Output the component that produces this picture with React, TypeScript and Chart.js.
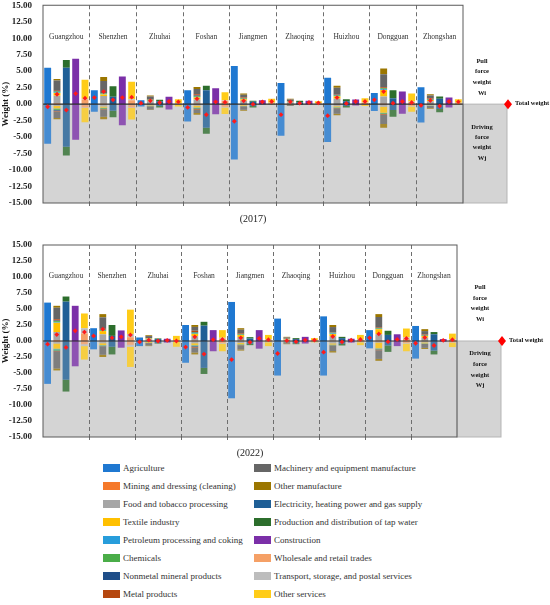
import { useEffect, useRef } from "react";
import { Chart, registerables } from "chart.js";
Chart.register(...registerables);

const serif = '"Liberation Serif", "Times New Roman", serif';

const cities = ["Guangzhou", "Shenzhen", "Zhuhai", "Foshan", "Jiangmen", "Zhaoqing", "Huizhou", "Dongguan", "Zhongshan"];
const industries = [
  "Agriculture", "Mining and dressing (cleaning)", "Food and tobacco processing", "Textile industry",
  "Petroleum processing and coking", "Chemicals", "Nonmetal mineral products", "Metal products",
  "Machinery and equipment manufacture", "Other manufacture", "Electricity, heating power and gas supply",
  "Production and distribution of tap water", "Construction", "Wholesale and retail trades",
  "Transport, storage, and postal services", "Other services",
];
const colors = [
  "#1f78d1", "#f5792a", "#a6a6a6", "#ffc000", "#279ddb", "#4aad48", "#1f4e89", "#b5470f",
  "#666666", "#9b7600", "#1f5f96", "#2c6e2c", "#7b2fa8", "#f5a066", "#bdbdbd", "#ffcc18",
];
// which of the 5 bars of a city an industry is stacked in
const sectorOf = [0, 1, 1, 1, 1, 1, 1, 1, 1, 1, 2, 2, 3, 4, 4, 4];
const slots = 5;

// pull force weight Wi, one row per industry, one value per city
const pull2017 = [
  [5.5, 2.1, 0.6, 2.1, 5.8, 3.2, 4.0, 1.7, 2.55],
  [0.08, 0.05, 0.02, 0.05, 0.03, 0.02, 0.03, 0.05, 0.03],
  [1.2, 1.2, 0.4, 0.65, 0.5, 0.25, 0.8, 1.1, 0.4],
  [0.4, 0.2, 0.1, 0.3, 0.2, 0.1, 0.35, 1.0, 0.2],
  [0.1, 0.05, 0.03, 0.05, 0.03, 0.02, 0.1, 0.1, 0.03],
  [0.15, 0.1, 0.1, 0.15, 0.1, 0.05, 0.1, 0.15, 0.1],
  [0.1, 0.05, 0.02, 0.1, 0.05, 0.02, 0.05, 0.05, 0.03],
  [0.12, 0.05, 0.03, 0.2, 0.1, 0.02, 0.05, 0.1, 0.06],
  [1.45, 1.8, 0.45, 0.8, 0.4, 0.22, 1.0, 2.0, 0.45],
  [0.2, 0.6, 0.15, 0.3, 0.19, 0.1, 0.32, 0.85, 0.2],
  [5.5, 1.1, 0.45, 2.1, 0.35, 0.3, 0.45, 0.9, 0.8],
  [1.2, 1.6, 0.2, 0.7, 0.15, 0.2, 0.3, 1.2, 0.35],
  [6.9, 4.2, 1.1, 2.4, 0.6, 0.5, 0.7, 1.9, 1.0],
  [0.7, 0.6, 0.1, 0.5, 0.15, 0.1, 0.2, 0.3, 0.15],
  [0.1, 0.15, 0.05, 0.1, 0.05, 0.05, 0.05, 0.1, 0.05],
  [2.9, 2.65, 0.6, 1.2, 0.6, 0.3, 0.65, 1.2, 0.55],
];
// driving force weight Wj
const drive2017 = [
  [-6.0, -1.15, -0.35, -2.65, -8.4, -4.8, -5.75, -1.05, -2.8],
  [-0.05, -0.05, -0.01, -0.05, -0.02, -0.01, -0.02, -0.05, -0.02],
  [-0.25, -0.3, -0.15, -0.2, -0.15, -0.05, -0.3, -0.35, -0.15],
  [-0.35, -0.2, -0.1, -0.25, -0.1, -0.03, -0.15, -0.9, -0.05],
  [-0.1, -0.05, -0.01, -0.05, -0.02, -0.01, -0.05, -0.05, -0.02],
  [-0.15, -0.1, -0.05, -0.1, -0.05, -0.02, -0.05, -0.1, -0.03],
  [-0.1, -0.05, -0.01, -0.1, -0.02, -0.01, -0.02, -0.05, -0.01],
  [-0.1, -0.05, -0.02, -0.1, -0.04, -0.01, -0.03, -0.1, -0.02],
  [-1.0, -1.1, -0.45, -0.5, -0.45, -0.1, -0.85, -1.4, -0.27],
  [-0.2, -0.4, -0.1, -0.25, -0.15, -0.06, -0.23, -0.6, -0.13],
  [-6.45, -1.0, -0.3, -3.6, -0.3, -0.1, -0.3, -0.9, -0.75],
  [-1.35, -1.0, -0.2, -0.9, -0.2, -0.05, -0.2, -1.0, -0.5],
  [-5.4, -3.2, -0.8, -1.55, -0.05, -0.05, -0.2, -1.45, -0.5],
  [-0.5, -0.5, -0.05, -0.4, -0.03, -0.03, -0.1, -0.3, -0.05],
  [-0.1, -0.1, -0.02, -0.1, -0.02, -0.02, -0.05, -0.05, -0.03],
  [-2.15, -1.75, -0.28, -1.0, -0.05, -0.05, -0.15, -0.8, -0.07],
];
// total weight, one row per bar (agriculture, manufacturing, utilities, construction, services)
const total2017 = [
  [-0.4, 1.0, 0.15, -0.5, -2.6, -1.6, -1.75, 0.65, -0.2],
  [1.5, 1.9, 0.5, 0.8, 0.5, 0.35, 1.0, 1.9, 0.55],
  [-0.9, 0.65, 0.25, -1.6, 0.0, 0.15, 0.1, 0.15, -0.3],
  [1.6, 1.0, 0.4, 0.35, 0.35, 0.25, 0.4, 0.4, 0.4],
  [0.9, 1.05, 0.35, 0.3, 0.4, 0.2, 0.4, 0.25, 0.35],
];

const pull2022 = [
  [6.0, 2.0, 0.55, 2.5, 6.1, 3.5, 3.85, 1.7, 2.35],
  [0.1, 0.05, 0.02, 0.05, 0.03, 0.02, 0.03, 0.05, 0.02],
  [1.3, 1.0, 0.25, 0.7, 0.6, 0.2, 0.7, 1.0, 0.5],
  [1.45, 0.5, 0.1, 0.35, 0.3, 0.1, 0.35, 0.8, 0.25],
  [0.1, 0.05, 0.02, 0.05, 0.03, 0.01, 0.1, 0.05, 0.03],
  [0.15, 0.15, 0.05, 0.15, 0.1, 0.02, 0.1, 0.1, 0.1],
  [0.1, 0.05, 0.01, 0.1, 0.05, 0.01, 0.03, 0.05, 0.02],
  [0.2, 0.1, 0.02, 0.2, 0.1, 0.02, 0.05, 0.1, 0.08],
  [1.8, 1.8, 0.3, 0.6, 0.55, 0.17, 0.82, 1.6, 0.55],
  [0.3, 0.5, 0.13, 0.3, 0.24, 0.1, 0.32, 0.45, 0.3],
  [6.15, 0.8, 0.3, 2.4, 0.4, 0.3, 0.45, 0.95, 1.05],
  [0.8, 1.7, 0.1, 0.6, 0.2, 0.15, 0.2, 0.65, 0.35],
  [5.5, 1.65, 0.35, 1.7, 1.7, 0.65, 0.35, 1.05, 0.3],
  [1.2, 0.6, 0.1, 0.35, 0.15, 0.1, 0.15, 0.35, 0.2],
  [0.8, 0.5, 0.05, 0.15, 0.1, 0.05, 0.1, 0.2, 0.1],
  [2.3, 3.8, 0.65, 1.2, 0.7, 0.3, 0.7, 1.4, 0.85],
];
const drive2022 = [
  [-6.7, -1.3, -0.8, -3.4, -8.95, -5.4, -5.4, -1.15, -2.75],
  [-0.1, -0.05, -0.01, -0.05, -0.02, -0.01, -0.02, -0.05, -0.02],
  [-0.3, -0.3, -0.15, -0.3, -0.3, -0.1, -0.35, -0.2, -0.2],
  [-0.8, -0.3, -0.1, -0.3, -0.2, -0.05, -0.2, -0.9, -0.15],
  [-0.1, -0.05, -0.01, -0.05, -0.02, -0.01, -0.05, -0.05, -0.02],
  [-0.2, -0.1, -0.05, -0.1, -0.1, -0.01, -0.05, -0.1, -0.05],
  [-0.1, -0.05, -0.01, -0.1, -0.03, -0.01, -0.02, -0.05, -0.01],
  [-0.1, -0.05, -0.02, -0.15, -0.05, -0.01, -0.03, -0.1, -0.02],
  [-2.6, -1.25, -0.35, -0.75, -0.6, -0.2, -0.85, -1.35, -0.6],
  [-0.3, -0.35, -0.1, -0.3, -0.18, -0.1, -0.23, -0.3, -0.18],
  [-6.05, -0.9, -0.3, -4.2, -0.45, -0.35, -0.45, -0.7, -1.5],
  [-1.85, -1.2, -0.1, -0.95, -0.2, -0.15, -0.25, -1.0, -0.6],
  [-3.95, -1.05, -0.25, -1.6, -1.2, -0.4, -0.25, -0.8, -0.1],
  [-0.5, -0.6, -0.1, -0.3, -0.15, -0.05, -0.15, -0.3, -0.2],
  [-0.3, -0.3, -0.05, -0.1, -0.05, -0.02, -0.05, -0.1, -0.05],
  [-2.1, -3.15, -0.75, -1.2, -0.6, -0.13, -0.45, -1.2, -0.7],
];
const total2022 = [
  [-0.5, 0.8, -0.15, -0.95, -2.9, -1.95, -1.75, 0.5, -0.35],
  [1.0, 1.85, 0.15, 0.65, 0.5, 0.05, 0.7, 1.1, 0.55],
  [-1.0, 0.5, 0.0, -2.05, -0.2, -0.1, -0.15, -0.1, -0.7],
  [1.6, 0.65, 0.1, 0.2, 0.4, 0.15, 0.15, 0.25, 0.1],
  [1.4, 0.95, 0.0, 0.25, 0.2, 0.15, 0.25, 0.4, 0.2],
];

const yTicks = { min: -15, max: 15, step: 2.5 };

// put one city value per bar slot, 5 slots per city
function spread(row: number[], slot: number) {
  const out: (number | null)[] = cities.flatMap(() => [null, null, null, null, null]);
  row.forEach((v, c) => { out[c * slots + slot] = v; });
  return out;
}

function decoPlugin(pullAt: number[], driveAt: number[], sideX: number) {
  return {
    id: "deco",
    beforeDraw(chart: any) {
      const { ctx, chartArea: a, scales } = chart;
      const y0 = scales.y.getPixelForValue(0);
      ctx.save();
      ctx.fillStyle = "#d4d4d4";
      ctx.fillRect(a.left, y0, a.right - a.left + 44, a.bottom - y0);
      ctx.strokeStyle = "#b5b5b5";
      ctx.lineWidth = 1;
      ctx.strokeRect(a.right, y0, 44, a.bottom - y0);
      ctx.restore();
    },
    afterDatasetDraw(chart: any, args: any) {
      if (args.index !== 0) return;
      const { ctx, chartArea: a, scales } = chart;
      const y0 = scales.y.getPixelForValue(0);
      ctx.save();
      ctx.strokeStyle = "#2b2b2b";
      ctx.lineWidth = 1.2;
      ctx.beginPath();
      ctx.moveTo(a.left, y0);
      ctx.lineTo(a.right, y0);
      ctx.stroke();
      ctx.restore();
    },
    afterDatasetsDraw(chart: any) {
      const { ctx, chartArea: a, scales } = chart;
      const x = scales.x, y = scales.y;
      const y0 = y.getPixelForValue(0);
      ctx.save();
      ctx.strokeStyle = "#5a5a5a";
      ctx.lineWidth = 1;
      ctx.strokeRect(a.left, a.top, a.right - a.left, a.bottom - a.top);
      ctx.fillStyle = "#333";
      ctx.font = `7.5px ${serif}`;
      ctx.textAlign = "center";
      ctx.textBaseline = "middle";
      cities.forEach((name, c) => {
        ctx.fillText(name, x.getPixelForValue(c * slots + 2), y.getPixelForValue(10.2));
      });
      ctx.fillStyle = "#111";
      ctx.font = `bold 6.5px ${serif}`;
      ["Pull", "force", "weight", "Wi"].forEach((t, i) => ctx.fillText(t, a.right + sideX, y.getPixelForValue(pullAt[i])));
      ["Driving", "force", "weight", "Wj"].forEach((t, i) => ctx.fillText(t, a.right + sideX, y.getPixelForValue(driveAt[i])));
      // total weight key
      const kx = a.right + 45;
      ctx.fillStyle = "#ff0000";
      ctx.beginPath();
      ctx.moveTo(kx, y0 - 5);
      ctx.lineTo(kx + 4, y0);
      ctx.lineTo(kx, y0 + 5);
      ctx.lineTo(kx - 4, y0);
      ctx.closePath();
      ctx.fill();
      ctx.fillStyle = "#111";
      ctx.textAlign = "left";
      ctx.fillText("Total weight", kx + 7, y0 - 1);
      ctx.restore();
    },
  };
}

function Panel({ year, pull, drive, total, height, padTop, padBottom, padRight, pullAt, driveAt, sideX }: {
  year: string; pull: number[][]; drive: number[][]; total: number[][]; height: number;
  padTop: number; padBottom: number; padRight: number; pullAt: number[]; driveAt: number[]; sideX: number;
}) {
  const ref = useRef<HTMLCanvasElement>(null);
  useEffect(() => {
    if (!ref.current) return;
    const labels = cities.flatMap((c) => [c, c, c, c, c]);
    const bars: any[] = [];
    pull.forEach((row, i) => bars.push({
      type: "bar", label: industries[i], data: spread(row, sectorOf[i]),
      backgroundColor: colors[i], order: 1, stack: "w",
    }));
    drive.forEach((row, i) => bars.push({
      type: "bar", label: industries[i] + " (Wj)", data: spread(row, sectorOf[i]),
      backgroundColor: colors[i] + "c8", order: 1, stack: "w",
    }));
    const totals: (number | null)[] = cities.flatMap(() => [null, null, null, null, null]);
    total.forEach((row, s) => row.forEach((v, c) => { totals[c * slots + s] = v; }));
    const chart = new Chart(ref.current, {
      type: "bar",
      data: {
        labels,
        datasets: [
          ...bars,
          {
            type: "line", label: "Total weight", data: totals, showLine: false, order: 0, stack: "t",
            pointStyle: "rectRot", pointRadius: 2.4, pointBackgroundColor: "#ff1a1a", pointBorderWidth: 0,
          },
        ],
      },
      options: {
        animation: false,
        responsive: true,
        maintainAspectRatio: false,
        layout: { padding: { top: padTop, right: padRight, left: 0, bottom: padBottom } },
        datasets: { bar: { barPercentage: 0.74, categoryPercentage: 1 } },
        plugins: { legend: { display: false }, tooltip: { enabled: true } },
        scales: {
          x: {
            stacked: true,
            ticks: { display: false, autoSkip: false },
            grid: {
              color: (c: any) => (c.index % slots === 0 && c.index > 0 && c.index < cities.length * slots ? "#6e6e6e" : "transparent"),
              lineWidth: 1, drawTicks: true, tickLength: 3,
            },
            border: { display: false, dash: [4, 3] },
            title: { display: true, text: `(${year})`, font: { family: serif, size: 10 }, color: "#222", padding: { top: 7, bottom: 0 } },
          },
          y: {
            stacked: true,
            min: yTicks.min,
            max: yTicks.max,
            afterFit: (s: any) => { s.width = 43; },
            ticks: {
              stepSize: yTicks.step,
              callback: (v: any) => Number(v).toFixed(2),
              font: { family: serif, size: 9, weight: "bold", lineHeight: 0.5 }, color: "#222", padding: 3,
            },
            grid: { display: false },
            border: { display: false },
            title: { display: true, text: "Weight (%)", font: { family: serif, size: 9, weight: "bold" }, color: "#111", padding: 0 },
          },
        },
      },
      plugins: [decoPlugin(pullAt, driveAt, sideX)],
    } as any);
    return () => chart.destroy();
  }, [year, pull, drive, total, padTop, padBottom, padRight, pullAt, driveAt, sideX]);
  return (
    <div style={{ position: "relative", width: 550, height }}>
      <canvas ref={ref} />
    </div>
  );
}

function Legend() {
  return (
    <div style={{
      display: "grid", gridTemplateColumns: "151px 240px", gridTemplateRows: "repeat(8, 18px)",
      gridAutoFlow: "column", paddingLeft: 103, fontFamily: serif, fontSize: 9, color: "#333",
    }}>
      {industries.map((name, i) => (
        <div key={name} style={{ display: "flex", alignItems: "center", whiteSpace: "nowrap" }}>
          <span style={{ width: 17, height: 8, background: colors[i], marginRight: 3, flex: "none" }} />
          {name}
        </div>
      ))}
    </div>
  );
}

export default function App() {
  return (
    <div style={{ position: "absolute", left: 0, top: 0, width: 550, height: 605, background: "#fff" }}>
      <Panel year="2017" pull={pull2017} drive={drive2017} total={total2017} height={228} padTop={4.5} padBottom={3}
        padRight={87} pullAt={[6.5, 4.9, 3.3, 1.7]} driveAt={[-3.5, -5.0, -6.6, -8.2]} sideX={19} />
      <Panel year="2022" pull={pull2022} drive={drive2022} total={total2022} height={231} padTop={17} padBottom={0}
        padRight={93} pullAt={[8.4, 6.7, 5.1, 3.4]} driveAt={[-2.0, -3.7, -5.3, -6.9]} sideX={23} />
      <Legend />
    </div>
  );
}
